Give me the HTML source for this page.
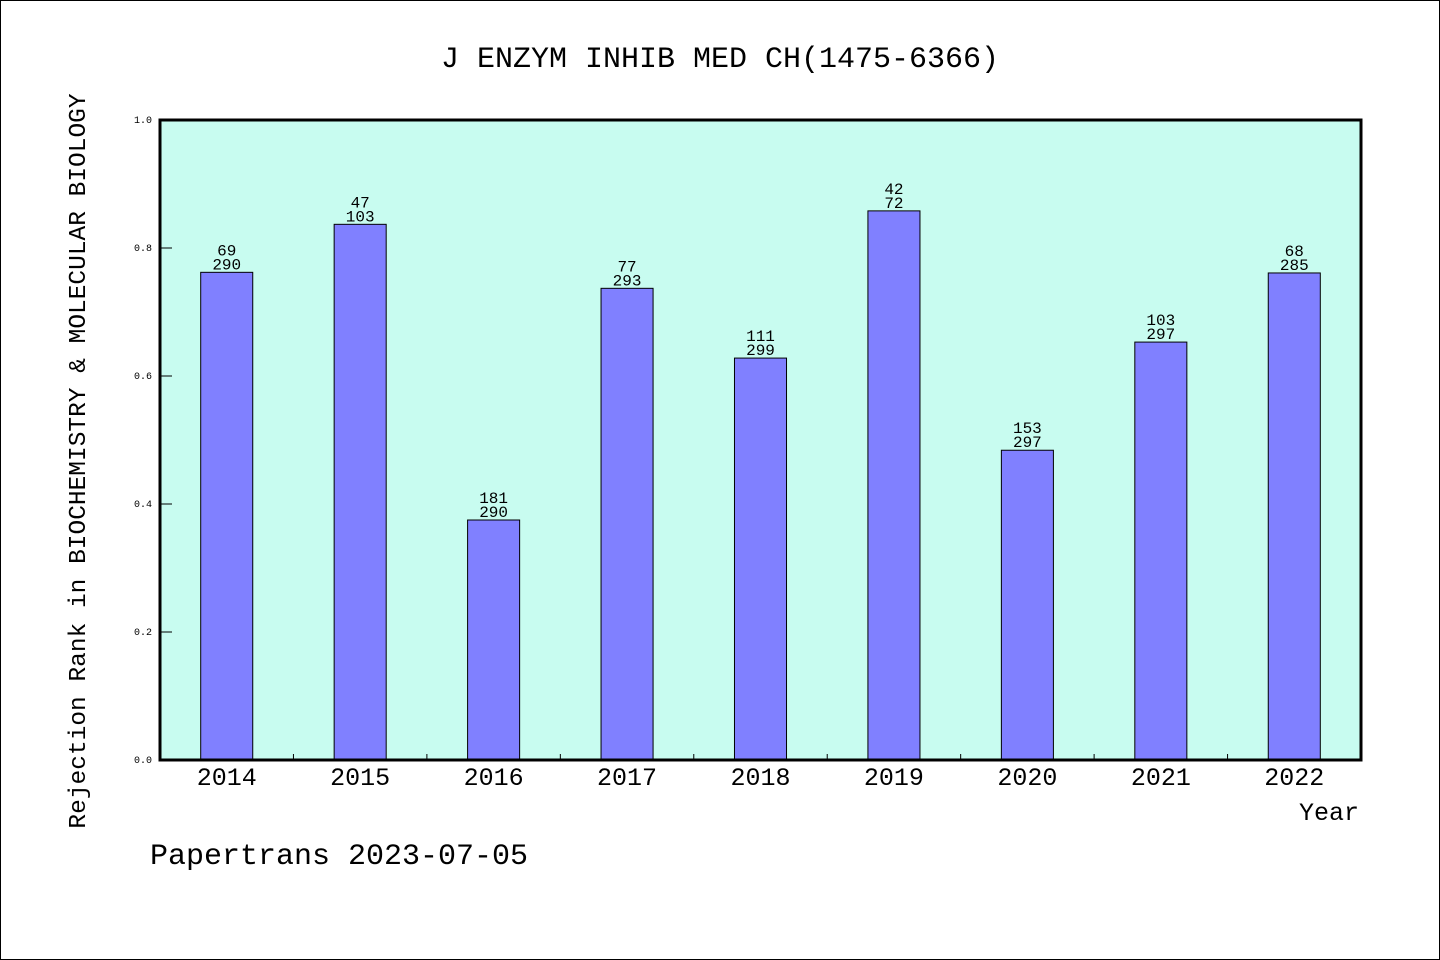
<!DOCTYPE html>
<html><head><meta charset="utf-8"><style>
html,body{margin:0;padding:0;background:#fff}
svg{display:block}
text{font-family:"Liberation Mono","WenQuanYi Zen Hei",monospace;fill:#000}
</style></head><body>
<svg id="chart" width="1440" height="960" viewBox="0 0 1440 960" xmlns="http://www.w3.org/2000/svg">
<rect x="0.5" y="0.5" width="1439" height="959" fill="#fff" stroke="#000" stroke-width="1"/>
<text x="720" y="67" text-anchor="middle" font-size="30">J ENZYM INHIB MED CH(1475-6366)</text>
<rect x="160" y="120" width="1201" height="640" fill="#c8fcf0"/>
<g id="bars"></g>
<g id="ticks"></g>
<rect x="160" y="120" width="1201" height="640" fill="none" stroke="#000" stroke-width="3"/>
<text transform="translate(85,461) rotate(-90)" text-anchor="middle" font-size="24.5">Rejection Rank in BIOCHEMISTRY &amp; MOLECULAR BIOLOGY</text>
<text x="1359" y="820" text-anchor="end" font-size="25">Year</text>
<text x="150" y="864" font-size="30">Papertrans 2023-07-05</text>
</svg>
<script>
const years = ['2014','2015','2016','2017','2018','2019','2020','2021','2022'];
const values = [0.762,0.837,0.375,0.737,0.628,0.858,0.484,0.653,0.761];
const ranks = [69,47,181,77,111,42,153,103,68];
const totals = [290,103,290,293,299,72,297,297,285];
const yTicks = [0,0.2,0.4,0.6,0.8,1.0];
const yTickLabels = ['0.0','0.2','0.4','0.6','0.8','1.0'];

const NS='http://www.w3.org/2000/svg';
const X0=160,X1=1361,Y0=760,Y1=120;
const slot=(X1-X0)/years.length;
const xc=i=>X0+slot*(i+0.5);
const yPos=v=>Y0-(Y0-Y1)*v;
function mk(tag,attrs,parent){const e=document.createElementNS(NS,tag);for(const k in attrs)e.setAttribute(k,attrs[k]);parent.appendChild(e);return e;}
const bars=document.getElementById('bars'),ticks=document.getElementById('ticks');
const bw=slot*0.39;
years.forEach((yr,i)=>{
  const top=yPos(values[i]);
  const r=mk('rect',{x:xc(i)-bw/2,y:top,width:bw,height:Y0-top,fill:'#8080ff',stroke:'#000','stroke-width':1},bars);
  
  
  const t1=mk('text',{x:xc(i),y:top-17,'text-anchor':'middle','font-size':16},bars);t1.textContent=ranks[i];
  
  
  const t2=mk('text',{x:xc(i),y:top-3,'text-anchor':'middle','font-size':16},bars);t2.textContent=totals[i];
  
  
  const xl=mk('text',{x:xc(i),y:785,'text-anchor':'middle','font-size':25},ticks);xl.textContent=yr;
  
  
  if(i>0){const tk=mk('line',{x1:X0+slot*i,x2:X0+slot*i,y1:Y0,y2:Y0-6,stroke:'#000','stroke-width':1},ticks);
    
    }
});
yTicks.forEach((v,i)=>{
  const yy=yPos(v);
  const tk=mk('line',{x1:X0,x2:X0+12,y1:yy,y2:yy,stroke:'#000','stroke-width':1},ticks);
  
  
  const tl=mk('text',{x:152,y:yy+3,'text-anchor':'end','font-size':10},ticks);tl.textContent=yTickLabels[i];
  
  
});
</script>
</body></html>
